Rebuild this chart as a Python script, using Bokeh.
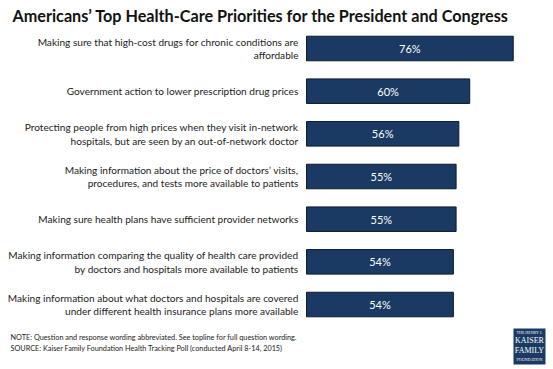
from bokeh.plotting import figure
from bokeh.models import Range1d, ColumnDataSource, Label, BoxAnnotation
from bokeh.embed import file_html
from bokeh.resources import INLINE
from bokeh.core.properties import value

categories = [
    "Making sure that high-cost drugs for chronic conditions are\naffordable",
    "Government action to lower prescription drug prices",
    "Protecting people from high prices when they visit in-network\nhospitals, but are seen by an out-of-network doctor",
    "Making information about the price of doctors\u2019 visits,\nprocedures, and tests more available to patients",
    "Making sure health plans have sufficient provider networks",
    "Making information comparing the quality of health care provided\nby doctors and hospitals more available to patients",
    "Making information about what doctors and hospitals are covered\nunder different health insurance plans more available",
]
values = [76, 60, 56, 55, 55, 54, 54]
value_labels = [f"{v}%" for v in values]

title_text = "Americans\u2019 Top Health-Care Priorities for the President and Congress"
note_text = "NOTE: Question and response wording abbreviated.  See topline for full question wording."
source_text = "SOURCE: Kaiser Family Foundation Health Tracking Poll (conducted April 8-14, 2015)"

W, H = 553, 369
idx = list(range(len(categories)))
src = ColumnDataSource(dict(
    y=idx, v=values, half=[v / 2 for v in values], cat=categories, lab=value_labels,
))

px_per_pct = 2.72
x0_px = 306
x_start = -x0_px / px_per_pct
x_end = (W - x0_px) / px_per_pct
unit_px = 42.67
top_px = 48
y_top = -top_px / unit_px
y_bot = (H - top_px) / unit_px

p = figure(width=W, height=H, output_backend="svg", toolbar_location=None,
           x_range=Range1d(x_start, x_end), y_range=Range1d(y_bot, y_top),
           min_border=0, outline_line_color=None)
p.axis.visible = False
p.grid.visible = False
p.background_fill_color = "white"

p.hbar(y="y", left=0, right="v", height=0.575, source=src,
       fill_color="#1a3a64", line_color="#0b1a2e", line_width=1)

p.text(x="half", y="y", text="lab", source=src, text_align="center",
       text_baseline="middle", text_color="white", text_font=value("Lato"),
       text_font_size="11px")

p.text(x=-8 / px_per_pct, y="y", text="cat", source=src, text_align="right",
       text_baseline="middle", text_color="#222222", text_font=value("Lato"),
       text_font_size="10.1px", text_line_height=1.15)

p.add_layout(Label(x=12, y=H - 5, x_units="screen", y_units="screen", text=title_text,
                   text_font="Lato", text_font_style="bold", text_font_size="16.2px",
                   text_baseline="top", text_color="#111111"))
p.add_layout(Label(x=10, y=H - 337, x_units="screen", y_units="screen", text=note_text,
                   text_font="Lato", text_font_size="7.3px",
                   text_baseline="middle", text_color="#222222"))
p.add_layout(Label(x=10, y=H - 348, x_units="screen", y_units="screen", text=source_text,
                   text_font="Lato", text_font_size="7.3px",
                   text_baseline="middle", text_color="#222222"))

p.add_layout(BoxAnnotation(left=513, right=545, bottom=5, top=41,
                           left_units="screen", right_units="screen",
                           bottom_units="screen", top_units="screen",
                           fill_color="#1a3a64", fill_alpha=1, line_color=None))
for txt, yy, fs in [("THE HENRY J.", 37, "4px"), ("KAISER", 29, "8px"),
                    ("FAMILY", 19, "8px"), ("FOUNDATION", 10, "4px")]:
    p.add_layout(Label(x=529, y=yy, x_units="screen", y_units="screen", text=txt,
                       text_font="Liberation Serif", text_font_size=fs,
                       text_align="center", text_baseline="middle", text_color="white"))

open("out.html", "w").write(file_html(p, INLINE))
